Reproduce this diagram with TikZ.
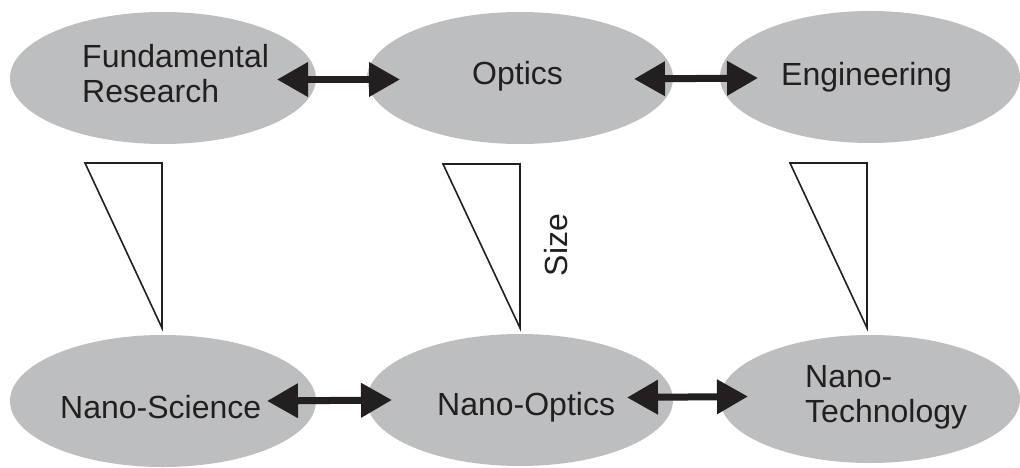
\documentclass[tikz,border=0pt]{standalone}
\usepackage{fontspec}
\setmainfont{Liberation Sans}
\usetikzlibrary{shapes.geometric,arrows.meta}
\definecolor{ellgray}{RGB}{188,190,192}
\definecolor{ink}{RGB}{35,31,32}
\tikzset{
  ell/.style={ellipse, fill=ellgray, draw=none, inner sep=0pt, outer sep=0pt,
              minimum width=306pt, minimum height=132pt},
  lbl/.style={anchor=base west, inner sep=0pt, align=left, text=ink,
              font=\fontsize{32}{35}\selectfont},
  dbl/.style={draw=ink, line width=7pt,
              {Triangle[length=31pt,width=33pt]}-{Triangle[length=31pt,width=33pt]}},
  wedge/.style={draw=ink, line width=1.6pt, line join=miter}
}
\begin{document}
\begin{tikzpicture}[x=1pt,y=-1pt]
\useasboundingbox (0,0) rectangle (1020,468);
% ellipses
\node[ell] (e1) at (163,78) {};
\node[ell] (e2) at (520,78) {};
\node[ell, minimum width=300pt] (e3) at (870,77) {};
\node[ell] (e4) at (163,401) {};
\node[ell] (e5) at (520,400) {};
\node[ell, minimum width=300pt, minimum height=128pt] (e6) at (870,399) {};
% labels (base = last line)
\node[lbl] (t1) at (82,103) {Fundamental\\Research};
\node[lbl] (t2) at (472,85) {Optics};
\node[lbl] (t3) at (781,86) {Engineering};
\node[lbl] (t4) at (60,418) {Nano-Science};
\node[lbl] (t5) at (437,415) {Nano-Optics};
\node[lbl] (t6) at (805,422) {Nano-\\Technology};
% size label
\node[anchor=base, rotate=90, inner sep=0pt, text=ink,
      font=\fontsize{32}{35}\selectfont] (size) at (567,245) {Size};
% arrows
\draw[dbl] ([xshift=-39pt,yshift=-1.5pt]e1.east) -- ([xshift=33pt,yshift=-1.5pt]e2.west);
\draw[dbl] ([xshift=-39pt,yshift=-1pt]e2.east) -- ([xshift=38pt,yshift=-1pt]e3.west);
\draw[dbl] ([xshift=-49pt]e4.east) -- ([xshift=25pt]e5.west);
\draw[dbl] ([xshift=-46pt,yshift=2.5pt]e5.east) -- ([xshift=28pt,yshift=2.5pt]e6.west);
% size wedges
\draw[wedge] (85,163) -- (162,163) -- (162,328) -- cycle;
\draw[wedge] (443,164) -- (520,164) -- (520,328) -- cycle;
\draw[wedge] (790,163) -- (867,163) -- (867,328) -- cycle;
\end{tikzpicture}
\end{document}
